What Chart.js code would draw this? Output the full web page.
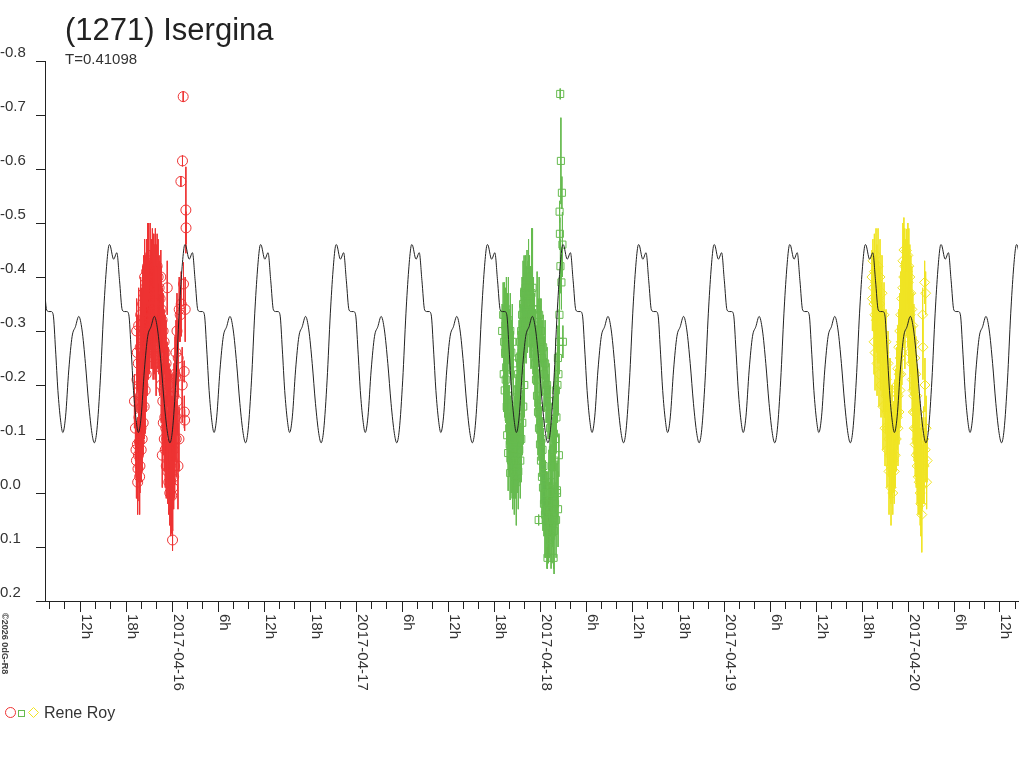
<!DOCTYPE html>
<html>
<head>
<meta charset="utf-8">
<title>(1271) Isergina</title>
<script src="https://cdn.jsdelivr.net/npm/chart.js@4.4.1/dist/chart.umd.min.js"></script>
<style>
  html, body { margin: 0; padding: 0; background: #fff; }
  #wrap { width: 1024px; height: 768px; }
</style>
</head>
<body>
<div id="wrap"><canvas id="lc" width="1024" height="768"></canvas></div>
<script>
// times are hours since 2017-04-15 00:00 UT, values are relative magnitudes
const titleText = "(1271) Isergina";
const periodDays = 0.41098;
const observer = "Rene Roy";
const stamp = "\u00a92026 0dG-R8";

// one cycle of the fitted curve, phase 0 = main maximum
const modelEpoch = 15.83;
const modelPhase = [0, 0.053, 0.096, 0.131, 0.167, 0.197, 0.227, 0.254, 0.285, 0.316, 0.351, 0.381, 0.417, 0.460,
  0.504, 0.548, 0.592, 0.635, 0.680, 0.723, 0.767, 0.798, 0.832, 0.877, 0.920, 0.956, 0.986];
const modelMag = [-0.46, -0.433, -0.445, -0.394, -0.339, -0.336, -0.336, -0.33, -0.265, -0.19, -0.135, -0.112, -0.141, -0.228,
  -0.29, -0.308, -0.327, -0.302, -0.24, -0.166, -0.11, -0.093, -0.117, -0.209, -0.333, -0.413, -0.456];

// session 1 (red circles)
const redTime = [19.07, 19.20, 19.27, 19.33, 19.40, 19.46, 19.53, 19.59, 19.66, 19.72,
  19.79, 19.85, 19.92, 19.98, 20.05, 20.11, 20.18, 20.24, 20.31, 20.37,
  20.44, 20.50, 20.57, 20.63, 20.69, 20.76, 20.82, 20.89, 20.95, 21.02,
  21.08, 21.15, 21.21, 21.28, 21.34, 21.41, 21.47, 21.54, 21.60, 21.67,
  21.73, 21.80, 21.86, 21.93, 21.99, 22.05, 22.12, 22.18, 22.25, 22.31,
  22.38, 22.44, 22.51, 22.57, 22.64, 22.70, 22.77, 22.83, 22.90, 22.96,
  23.03, 23.09, 23.16, 23.22, 23.29, 23.35, 23.42, 23.48, 23.55, 23.61,
  23.68, 23.74, 23.81, 23.87, 23.94, 24.00, 24.04, 24.06, 24.13, 24.19,
  24.26, 24.32, 24.39, 24.45, 24.52, 24.65, 24.78, 24.91, 25.04, 25.13,
  25.17, 25.30, 25.34, 25.43, 25.47, 25.56, 25.58, 25.62, 25.69, 25.78, 25.80,
  19.36, 19.44, 19.49, 19.57, 19.62, 19.70, 19.75, 19.82, 19.88, 19.95,
  20.01, 20.08, 20.14, 20.21, 20.27, 20.34, 20.40, 20.47, 20.52, 20.60,
  20.65, 20.73, 20.78, 20.86, 20.91, 20.99, 21.04, 21.12, 21.25, 21.38,
  21.51, 21.64, 21.77, 21.90, 22.03, 22.16, 22.29, 22.42, 22.55, 22.68,
  22.81, 22.94, 23.07, 23.20, 23.33, 23.46, 23.59, 23.71, 23.84, 23.97,
  24.10, 24.23, 24.36, 24.49, 24.62, 24.75, 24.88];
const redMag = [-0.17, -0.12, -0.08, -0.06, -0.21, -0.09, -0.045, -0.07, -0.14, -0.095,
  -0.05, -0.18, -0.12, -0.22, -0.16, -0.26, -0.2, -0.28, -0.24, -0.3,
  -0.26, -0.32, -0.27, -0.34, -0.29, -0.33, -0.36, -0.31, -0.34, -0.37,
  -0.32, -0.39, -0.35, -0.41, -0.36, -0.38, -0.42, -0.35, -0.43, -0.4,
  -0.36, -0.42, -0.34, -0.38, -0.33, -0.36, -0.3, -0.33, -0.27, -0.3,
  -0.24, -0.26, -0.4, -0.2, -0.23, -0.07, -0.17, -0.13, -0.19, -0.1,
  -0.14, -0.08, -0.12, -0.05, -0.1, -0.38, -0.04, -0.08, -0.02, -0.06,
  0.0, -0.05, -0.02, -0.03, 0.005, -0.06, 0.087, -0.01, -0.08, -0.03,
  -0.1, -0.05, -0.14, -0.215, -0.1, -0.17, -0.25, -0.34, -0.33, -0.577,
  -0.35, -0.2, -0.615, -0.734, -0.387, -0.225, -0.15, -0.135, -0.34, -0.524, -0.491,
  -0.3, -0.26, -0.02, -0.24, -0.31, -0.2, -0.03, -0.27, -0.33, -0.08,
  -0.3, -0.1, -0.35, -0.13, -0.37, -0.16, -0.4, -0.19, -0.38, -0.22,
  -0.41, -0.25, -0.42, -0.27, -0.43, -0.28, -0.3, -0.44, -0.3, -0.29,
  -0.28, -0.3, -0.27, -0.25, -0.42, -0.4, -0.38, -0.36, -0.34, -0.32,
  -0.3, -0.28, -0.26, -0.24, -0.22, -0.2, -0.18, -0.16, -0.14, -0.12,
  -0.15, -0.18, -0.22, -0.26, -0.3, -0.05, -0.1];
const redErr = [0.05, 0.06, 0.05, 0.07, 0.06, 0.05, 0.06, 0.05, 0.08, 0.06,
  0.05, 0.07, 0.06, 0.08, 0.05, 0.07, 0.06, 0.06, 0.08, 0.07,
  0.05, 0.06, 0.07, 0.08, 0.06, 0.07, 0.05, 0.06, 0.09, 0.06,
  0.07, 0.06, 0.08, 0.06, 0.05, 0.11, 0.06, 0.07, 0.05, 0.06,
  0.06, 0.07, 0.06, 0.08, 0.05, 0.06, 0.07, 0.06, 0.05, 0.07,
  0.06, 0.06, 0.05, 0.07, 0.06, 0.06, 0.07, 0.06, 0.08, 0.06,
  0.05, 0.07, 0.06, 0.06, 0.08, 0.05, 0.06, 0.07, 0.06, 0.07,
  0.06, 0.08, 0.1, 0.09, 0.07, 0.06, 0.02, 0.08, 0.07, 0.06,
  0.07, 0.06, 0.08, 0.06, 0.07, 0.06, 0.07, 0.06, 0.05, 0.01,
  0.06, 0.07, 0.01, 0.01, 0.04, 0.02, 0.03, 0.02, 0.06, 0.08, 0.03,
  0.06, 0.07, 0.06, 0.05, 0.07, 0.06, 0.07, 0.06, 0.07, 0.06,
  0.08, 0.06, 0.07, 0.06, 0.07, 0.06, 0.07, 0.08, 0.06, 0.07,
  0.06, 0.07, 0.08, 0.06, 0.07, 0.06, 0.07, 0.06, 0.07, 0.06,
  0.07, 0.08, 0.06, 0.07, 0.06, 0.07, 0.06, 0.07, 0.08, 0.06,
  0.07, 0.06, 0.07, 0.08, 0.06, 0.07, 0.06, 0.07, 0.08, 0.06,
  0.07, 0.06, 0.07, 0.06, 0.07, 0.08, 0.06];

// session 2 (green squares)
const greenTime = [67.05, 67.18, 67.25, 67.31, 67.38, 67.44, 67.51, 67.57, 67.64, 67.70,
  67.77, 67.83, 67.90, 67.96, 68.03, 68.09, 68.16, 68.22, 68.29, 68.35,
  68.42, 68.48, 68.55, 68.61, 68.68, 68.74, 68.81, 68.87, 68.94, 69.00,
  69.07, 69.13, 69.20, 69.26, 69.33, 69.39, 69.46, 69.52, 69.59, 69.65,
  69.72, 69.78, 69.85, 69.91, 69.98, 70.04, 70.11, 70.17, 70.24, 70.29,
  70.36, 70.42, 70.49, 70.55, 70.62, 70.68, 70.75, 70.81, 70.88, 70.94,
  71.01, 71.07, 71.14, 71.20, 71.27, 71.33, 71.40, 71.46, 71.53, 71.59,
  71.66, 71.72, 71.81, 71.85, 71.92, 71.98, 72.05, 72.11, 72.18, 72.24,
  72.31, 72.37, 72.44, 72.50, 72.57, 72.63, 72.70, 72.76, 72.83, 72.89,
  72.96, 73.02, 73.09, 73.15, 73.22, 73.28, 73.35, 73.41, 73.48, 73.54,
  73.61, 73.67, 73.76, 73.80, 73.87, 73.93, 74.00, 74.06, 74.13, 74.19,
  74.26, 74.32, 74.39, 74.45, 74.49, 74.52, 74.54, 74.58, 74.62, 74.65,
  74.71, 74.78, 74.84, 74.91, 74.97,
  67.34, 67.47, 67.60, 67.73, 67.86, 67.98, 68.11, 68.24, 68.37, 68.50,
  68.63, 68.76, 68.89, 69.02, 69.15, 69.28, 69.41, 69.54, 69.67, 69.80, 69.93,
  71.61, 71.74, 71.87, 72.00, 72.13, 72.26, 72.39, 72.52, 72.65, 72.78,
  72.91, 73.04, 73.17, 73.30, 73.43, 73.56, 73.69, 73.82, 73.95, 74.08, 74.21, 74.34];
const greenMag = [-0.3, -0.33, -0.22, -0.28, -0.19, -0.26, -0.21, -0.233, -0.16, -0.107,
  -0.18, -0.074, -0.14, -0.12, -0.09, -0.037, -0.11, -0.06, -0.13, -0.08,
  -0.04, -0.1, -0.06, -0.12, -0.07, -0.14, -0.09, -0.16, -0.11, -0.19,
  -0.14, -0.22, -0.17, -0.25, -0.2, -0.28, -0.24, -0.3, -0.26, -0.33,
  -0.28, -0.35, -0.3, -0.37, -0.32, -0.34, -0.38, -0.31, -0.36, -0.4,
  -0.33, -0.37, -0.41, -0.35, -0.38, -0.32, -0.36, -0.3, -0.37, -0.33,
  -0.38, -0.29, -0.34, -0.27, -0.31, -0.24, -0.28, -0.21, -0.25, -0.18,
  -0.22, -0.15, 0.05, -0.12, -0.16, -0.09, -0.13, -0.06, -0.1, -0.03,
  -0.08, -0.01, -0.05, 0.02, -0.03, 0.04, 0.0, 0.05, 0.02, 0.06,
  0.12, 0.03, 0.07, 0.0, 0.05, 0.087, 0.02, -0.02, 0.03, -0.05,
  0.0, -0.08, 0.12, -0.11, -0.06, -0.15, -0.1, -0.19, -0.14, -0.005,
  -0.2, -0.25, -0.22, -0.07, -0.28, -0.33, -0.521, -0.48, -0.739, -0.42,
  -0.615, -0.39, -0.556, -0.46, -0.28,
  -0.33, -0.31, -0.34, -0.3, -0.32, -0.28, -0.3, -0.26, -0.28, -0.24,
  -0.03, -0.05, -0.02, -0.06, -0.04, -0.08, -0.06, -0.1, -0.13, -0.16, -0.2,
  -0.34, -0.3, -0.33, -0.28, -0.3, -0.25, -0.27, -0.22, -0.24, -0.19,
  -0.2, -0.16, -0.17, -0.12, 0.08, 0.06, 0.04, 0.07, 0.02, 0.05, 0.0, 0.03];
const greenErr = [0.05, 0.06, 0.07, 0.06, 0.05, 0.06, 0.08, 0.06, 0.07, 0.05,
  0.06, 0.07, 0.06, 0.08, 0.06, 0.05, 0.07, 0.06, 0.08, 0.09,
  0.07, 0.06, 0.07, 0.06, 0.08, 0.06, 0.07, 0.06, 0.05, 0.07,
  0.06, 0.08, 0.06, 0.07, 0.06, 0.07, 0.06, 0.08, 0.06, 0.07,
  0.06, 0.08, 0.06, 0.07, 0.06, 0.09, 0.06, 0.07, 0.06, 0.05,
  0.07, 0.06, 0.06, 0.08, 0.06, 0.07, 0.06, 0.07, 0.12, 0.06,
  0.11, 0.07, 0.06, 0.07, 0.06, 0.08, 0.06, 0.07, 0.06, 0.07,
  0.06, 0.08, 0.01, 0.06, 0.07, 0.06, 0.07, 0.08, 0.06, 0.07,
  0.06, 0.08, 0.07, 0.06, 0.07, 0.08, 0.06, 0.07, 0.06, 0.08,
  0.02, 0.07, 0.06, 0.08, 0.07, 0.03, 0.06, 0.07, 0.06, 0.08,
  0.07, 0.06, 0.02, 0.07, 0.06, 0.08, 0.06, 0.07, 0.06, 0.05,
  0.07, 0.06, 0.07, 0.04, 0.06, 0.07, 0.02, 0.03, 0.01, 0.05,
  0.08, 0.05, 0.03, 0.06, 0.03,
  0.06, 0.07, 0.06, 0.07, 0.08, 0.06, 0.07, 0.06, 0.07, 0.06,
  0.07, 0.06, 0.08, 0.06, 0.07, 0.06, 0.07, 0.08, 0.06, 0.07, 0.06,
  0.07, 0.06, 0.07, 0.08, 0.06, 0.07, 0.06, 0.07, 0.08, 0.06,
  0.07, 0.06, 0.07, 0.08, 0.06, 0.07, 0.06, 0.08, 0.06, 0.07, 0.06, 0.07];

// session 3 (yellow diamonds)
const yellowTime = [115.29, 115.35, 115.42, 115.48, 115.55, 115.61, 115.68, 115.74, 115.81, 115.87,
  115.94, 116.00, 116.07, 116.13, 116.20, 116.26, 116.33, 116.39, 116.46, 116.52,
  116.59, 116.65, 116.72, 116.78, 116.85, 116.91, 116.98, 117.04, 117.11, 117.17,
  117.23, 117.30, 117.36, 117.43, 117.49, 117.56, 117.62, 117.69, 117.75, 117.82,
  117.88, 117.95, 118.01, 118.08, 118.14, 118.21, 118.27, 118.34, 118.40, 118.47,
  118.53, 118.60, 118.66, 118.73, 118.79, 118.86, 118.92, 118.99, 119.05, 119.12,
  119.18, 119.25, 119.31, 119.38, 119.44, 119.51, 119.57, 119.64, 119.70, 119.79,
  119.83, 119.90, 119.96, 120.03, 120.09, 120.16, 120.22, 120.29, 120.35, 120.42,
  120.48, 120.55, 120.65, 120.68, 120.74, 120.81, 120.87, 120.94, 121.00, 121.07,
  121.13, 121.20, 121.26, 121.33, 121.39, 121.46, 121.52, 121.59, 121.65, 121.72,
  121.78, 121.85, 121.91, 121.95, 121.98, 122.04, 122.11, 122.17, 122.21, 122.25,
  122.30, 122.37, 122.43, 122.50,
  115.57, 115.70, 115.83, 115.96, 116.09, 116.22, 116.35, 116.48, 116.61, 116.74,
  116.87, 117.00, 117.13, 117.26, 117.39, 117.52, 117.65, 117.78, 117.91,
  118.69, 118.82, 118.95, 119.07, 119.20, 119.33, 119.46, 119.59,
  119.98, 120.11, 120.24, 120.37, 120.50, 120.63, 120.76, 120.89, 121.02, 121.15,
  121.28, 121.41, 121.54, 121.67, 121.80];
const yellowMag = [-0.4, -0.36, -0.43, -0.38, -0.35, -0.41, -0.33, -0.39, -0.36, -0.32,
  -0.38, -0.34, -0.3, -0.36, -0.33, -0.29, -0.35, -0.31, -0.27, -0.33,
  -0.3, -0.25, -0.28, -0.23, -0.26, -0.21, -0.2, -0.24, -0.18, -0.21,
  -0.15, -0.19, -0.12, -0.16, -0.1, -0.14, -0.07, -0.11, -0.05, -0.09,
  -0.046, -0.08, 0.0, -0.06, -0.1, -0.04, -0.13, -0.07, -0.16, -0.1,
  -0.2, -0.14, -0.23, -0.18, -0.27, -0.22, -0.3, -0.25, -0.33, -0.28,
  -0.36, -0.31, -0.38, -0.33, -0.4, -0.35, -0.42, -0.37, -0.4, -0.449,
  -0.36, -0.41, -0.34, -0.39, -0.32, -0.37, -0.26, -0.33, -0.29, -0.24,
  -0.27, -0.21, -0.19, -0.15, -0.18, -0.12, -0.15, -0.09, -0.12, -0.07,
  -0.1, -0.05, -0.074, -0.03, -0.06, -0.02, -0.05, 0.0, -0.04, -0.011,
  -0.07, -0.03, -0.33, -0.27, -0.06, -0.1, -0.05, -0.39, -0.2, -0.08,
  -0.37, -0.12, -0.02, -0.06,
  -0.28, -0.26, -0.44, -0.24, -0.42, -0.22, -0.4, -0.2, -0.37, -0.16,
  -0.33, -0.12, -0.28, -0.08, -0.24, -0.04, -0.19, -0.01, -0.14,
  -0.12, -0.15, -0.19, -0.22, -0.26, -0.43, -0.45, -0.3,
  -0.44, -0.42, -0.4, -0.37, -0.34, -0.31, -0.28, -0.25, -0.22, -0.18,
  -0.15, -0.12, -0.1, 0.02, 0.04];
const yellowErr = [0.05, 0.06, 0.04, 0.06, 0.05, 0.07, 0.06, 0.05, 0.07, 0.06,
  0.08, 0.05, 0.06, 0.07, 0.06, 0.05, 0.07, 0.06, 0.08, 0.06,
  0.05, 0.07, 0.06, 0.08, 0.06, 0.07, 0.05, 0.06, 0.07, 0.06,
  0.08, 0.06, 0.07, 0.06, 0.07, 0.06, 0.08, 0.06, 0.07, 0.06,
  0.05, 0.07, 0.04, 0.06, 0.07, 0.06, 0.08, 0.06, 0.07, 0.06,
  0.07, 0.06, 0.08, 0.06, 0.07, 0.06, 0.07, 0.06, 0.08, 0.06,
  0.07, 0.06, 0.07, 0.06, 0.08, 0.06, 0.07, 0.06, 0.07, 0.04,
  0.07, 0.06, 0.07, 0.06, 0.08, 0.06, 0.07, 0.06, 0.07, 0.06,
  0.08, 0.06, 0.07, 0.06, 0.07, 0.06, 0.08, 0.06, 0.07, 0.06,
  0.08, 0.07, 0.06, 0.07, 0.08, 0.06, 0.07, 0.06, 0.08, 0.06,
  0.07, 0.06, 0.05, 0.06, 0.08, 0.06, 0.07, 0.04, 0.05, 0.06,
  0.04, 0.06, 0.05, 0.04,
  0.06, 0.07, 0.05, 0.06, 0.07, 0.06, 0.07, 0.06, 0.07, 0.08,
  0.06, 0.07, 0.06, 0.07, 0.06, 0.08, 0.06, 0.07, 0.06,
  0.07, 0.06, 0.07, 0.08, 0.06, 0.07, 0.06, 0.07,
  0.06, 0.07, 0.06, 0.07, 0.08, 0.06, 0.07, 0.06, 0.07, 0.06,
  0.08, 0.06, 0.07, 0.06, 0.07];

const red = "#ee3333";
const green = "#66bb4f";
const yellow = "#f0e424";
const ink = "#222222";
const font = "'Liberation Sans', Arial, sans-serif";

// fitted curve, the measured cycle repeated at the period
const periodHours = periodDays * 24;
const modelPoints = [];
for (let k = -1; k <= 12; k++) {
  modelPhase.forEach((p, i) => {
    modelPoints.push({ x: modelEpoch + (k + p) * periodHours, y: modelMag[i] });
  });
}

function points(time, mag) {
  return time.map((t, i) => ({ x: t, y: mag[i] }));
}

function errorBars(time, mag, err) {
  const out = [];
  time.forEach((t, i) => {
    out.push({ x: t, y: mag[i] - err[i] });
    out.push({ x: t, y: mag[i] + err[i] });
    out.push({ x: t, y: null });
  });
  return out;
}

function hourLabel(v) {
  const h = ((Math.round(v) % 24) + 24) % 24;
  if (h === 0) {
    const day = 15 + Math.round(v) / 24;
    return "2017-04-" + String(day).padStart(2, "0");
  }
  if (h === 6 || h === 12 || h === 18) return h + "h";
  return "";
}

const textPlugin = {
  id: "texts",
  afterDraw(chart) {
    const ctx = chart.ctx;
    const xs = chart.scales.x;
    const bottom = chart.chartArea.bottom;
    ctx.save();
    ctx.fillStyle = ink;
    ctx.textAlign = "left";
    ctx.textBaseline = "alphabetic";
    ctx.font = "31px " + font;
    ctx.fillText(titleText, 65, 40);
    ctx.fillStyle = "#333";
    ctx.font = "15px " + font;
    ctx.fillText("T=" + periodDays, 65, 64);

    // hour and date labels under the axis
    ctx.strokeStyle = ink;
    ctx.lineWidth = 1;
    xs.ticks.forEach((t) => {
      const lab = hourLabel(t.value);
      if (!lab) return;
      const px = xs.getPixelForValue(t.value);
      const ax = Math.round(px - 0.5) + 0.5;
      ctx.beginPath();
      ctx.moveTo(ax, bottom);
      ctx.lineTo(ax, bottom + 11);
      ctx.stroke();
      ctx.save();
      ctx.translate(px + 1.5, bottom + 13);
      ctx.rotate(Math.PI / 2);
      ctx.font = "15px " + font;
      ctx.fillStyle = "#333";
      ctx.fillText(lab, 0, 0);
      ctx.restore();
    });

    // legend
    ctx.lineWidth = 1;
    ctx.strokeStyle = red;
    ctx.beginPath();
    ctx.arc(10.5, 712.5, 5, 0, Math.PI * 2);
    ctx.stroke();
    ctx.strokeStyle = green;
    ctx.strokeRect(18.5, 710.5, 6, 6);
    ctx.strokeStyle = yellow;
    ctx.beginPath();
    ctx.moveTo(28.5, 712.5);
    ctx.lineTo(33.5, 707.5);
    ctx.lineTo(38.5, 712.5);
    ctx.lineTo(33.5, 717.5);
    ctx.closePath();
    ctx.stroke();
    ctx.fillStyle = "#333";
    ctx.font = "16px " + font;
    ctx.fillText(observer, 44, 718);

    // small vertical stamp
    ctx.save();
    ctx.translate(2, 613);
    ctx.rotate(Math.PI / 2);
    ctx.font = "bold 9px " + font;
    ctx.fillStyle = "#444";
    ctx.fillText(stamp, 0, 0);
    ctx.restore();
    ctx.restore();
  },
};

new Chart(document.getElementById("lc"), {
  type: "scatter",
  data: {
    datasets: [
      {
        label: "fit",
        data: modelPoints,
        showLine: true,
        borderColor: ink,
        borderWidth: 1,
        pointRadius: 0,
        cubicInterpolationMode: "monotone",
      },
      {
        label: "s1",
        data: points(redTime, redMag),
        pointStyle: "circle",
        pointRadius: 5,
        borderColor: red,
        backgroundColor: "rgba(0,0,0,0)",
        pointBorderWidth: 1,
      },
      {
        label: "s2",
        data: points(greenTime, greenMag),
        pointStyle: "rect",
        pointRadius: 5,
        borderColor: green,
        backgroundColor: "rgba(0,0,0,0)",
        pointBorderWidth: 1,
      },
      {
        label: "s3",
        data: points(yellowTime, yellowMag),
        pointStyle: "rectRot",
        pointRadius: 5,
        borderColor: yellow,
        backgroundColor: "rgba(0,0,0,0)",
        pointBorderWidth: 1,
      },
      {
        label: "e1",
        data: errorBars(redTime, redMag, redErr),
        showLine: true,
        spanGaps: false,
        pointRadius: 0,
        borderColor: red,
        borderWidth: 1,
      },
      {
        label: "e2",
        data: errorBars(greenTime, greenMag, greenErr),
        showLine: true,
        spanGaps: false,
        pointRadius: 0,
        borderColor: green,
        borderWidth: 1,
      },
      {
        label: "e3",
        data: errorBars(yellowTime, yellowMag, yellowErr),
        showLine: true,
        spanGaps: false,
        pointRadius: 0,
        borderColor: yellow,
        borderWidth: 1,
      },
    ],
  },
  options: {
    responsive: false,
    animation: false,
    events: [],
    layout: { padding: { top: 61, right: 0, bottom: 147, left: 0 } },
    plugins: {
      legend: { display: false },
      tooltip: { enabled: false },
      title: { display: false },
    },
    scales: {
      x: {
        type: "linear",
        min: 7.4,
        max: 134.35,
        afterFit: (scale) => {
          scale.height = 20;
        },
        ticks: { display: false, stepSize: 2, includeBounds: false },
        grid: { drawOnChartArea: false, drawTicks: true, tickLength: 8, color: ink },
        border: { display: true, color: ink, width: 1 },
      },
      y: {
        type: "linear",
        reverse: true,
        min: -0.8,
        max: 0.2,
        afterFit: (scale) => {
          scale.width = 45;
        },
        ticks: {
          stepSize: 0.1,
          crossAlign: "far",
          labelOffset: -8,
          color: "#333",
          font: { family: font, size: 15 },
          callback: (v) => (Math.abs(v) < 1e-9 ? "0.0" : Number(v).toFixed(1)),
        },
        grid: { drawOnChartArea: false, drawTicks: true, tickLength: 9, color: ink },
        border: { display: true, color: ink, width: 1 },
      },
    },
  },
  plugins: [textPlugin],
});
</script>
</body>
</html>
